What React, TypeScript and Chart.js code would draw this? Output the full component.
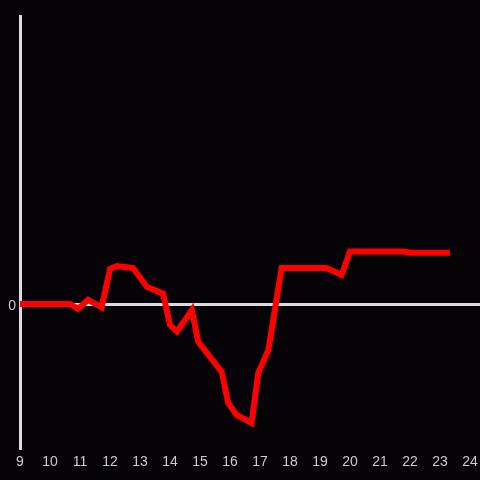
import React, { useEffect, useRef } from "react";
import { Chart, registerables } from "chart.js";

Chart.register(...registerables);

// Hours of the day (x) and values (y)
const hours = [
  9.0, 10.67, 10.93, 11.27, 11.72, 12.0, 12.23, 12.77, 13.23, 13.77, 14.0, 14.23,
  14.73, 14.94, 15.33, 15.72, 15.94, 16.22, 16.72, 16.94, 17.28, 17.72, 19.22,
  19.72, 20.0, 21.77, 22.0, 23.33,
];
const values = [
  0, 0, -1.7, 1.4, -1.2, 12.2, 13.2, 12.5, 6.0, 3.6, -7.3, -9.6,
  -2.1, -13.1, -18.3, -23.5, -34.4, -38.5, -41.3, -24, -16, 12.5, 12.5,
  10.1, 18.2, 18.2, 17.8, 17.8,
];
const xTickLabels = ["9", "10", "11", "12", "13", "14", "15", "16", "17", "18", "19", "20", "21", "22", "23", "24"];

const BG = "#050307";
const AXIS = "#dcdcdc";
const TEXT = "#cccccc";
const X_MAX = 24.333;

export default function App() {
  const ref = useRef<HTMLCanvasElement | null>(null);
  useEffect(() => {
    if (!ref.current) return;
    const chart = new Chart(ref.current, {
      type: "line",
      data: {
        datasets: [
          {
            data: hours.map((h, i) => ({ x: h, y: values[i] })),
            borderColor: "#ff0000",
            borderWidth: 6,
            pointRadius: 0,
            tension: 0,
            fill: false,
          },
        ],
      },
      options: {
        animation: false,
        responsive: false,
        maintainAspectRatio: false,
        layout: { padding: { top: 16, right: 0, left: 0, bottom: 0 } },
        plugins: { legend: { display: false }, tooltip: { enabled: false } },
        scales: {
          x: {
            type: "linear",
            min: 9,
            max: X_MAX,
            afterBuildTicks: (s: any) => {
              s.ticks = xTickLabels.map((l) => ({ value: Number(l) }));
            },
            afterFit: (s: any) => {
              s.height = 32;
              s.paddingLeft = 0;
              s.paddingRight = 0;
            },
            grid: { display: false, drawTicks: false },
            border: { display: false },
            ticks: {
              color: TEXT,
              padding: 6,
              autoSkip: false,
              maxRotation: 0,
              font: { family: "'Liberation Sans', Arial, sans-serif", size: 14 },
              callback: (v: any) => String(v),
            },
          },
          y: {
            min: -50,
            max: 100,
            afterFit: (s: any) => {
              s.width = 20;
              s.paddingTop = 0;
              s.paddingBottom = 0;
            },
            ticks: {
              stepSize: 50,
              color: TEXT,
              padding: 4,
              labelOffset: 2,
              font: { family: "'Liberation Sans', Arial, sans-serif", size: 14 },
              callback: (v: any) => (v === 0 ? "0" : ""),
            },
            grid: {
              drawTicks: false,
              lineWidth: 3,
              color: (ctx: any) => (ctx.tick && ctx.tick.value === 0 ? AXIS : "rgba(0,0,0,0)"),
            },
            border: { display: true, color: AXIS, width: 3 },
          },
        },
      },
    });
    return () => chart.destroy();
  }, []);
  return (
    <div style={{ position: "fixed", left: 0, top: 0, width: 480, height: 480, background: BG }}>
      <canvas ref={ref} width={480} height={480} style={{ display: "block", width: 480, height: 480 }} />
    </div>
  );
}
